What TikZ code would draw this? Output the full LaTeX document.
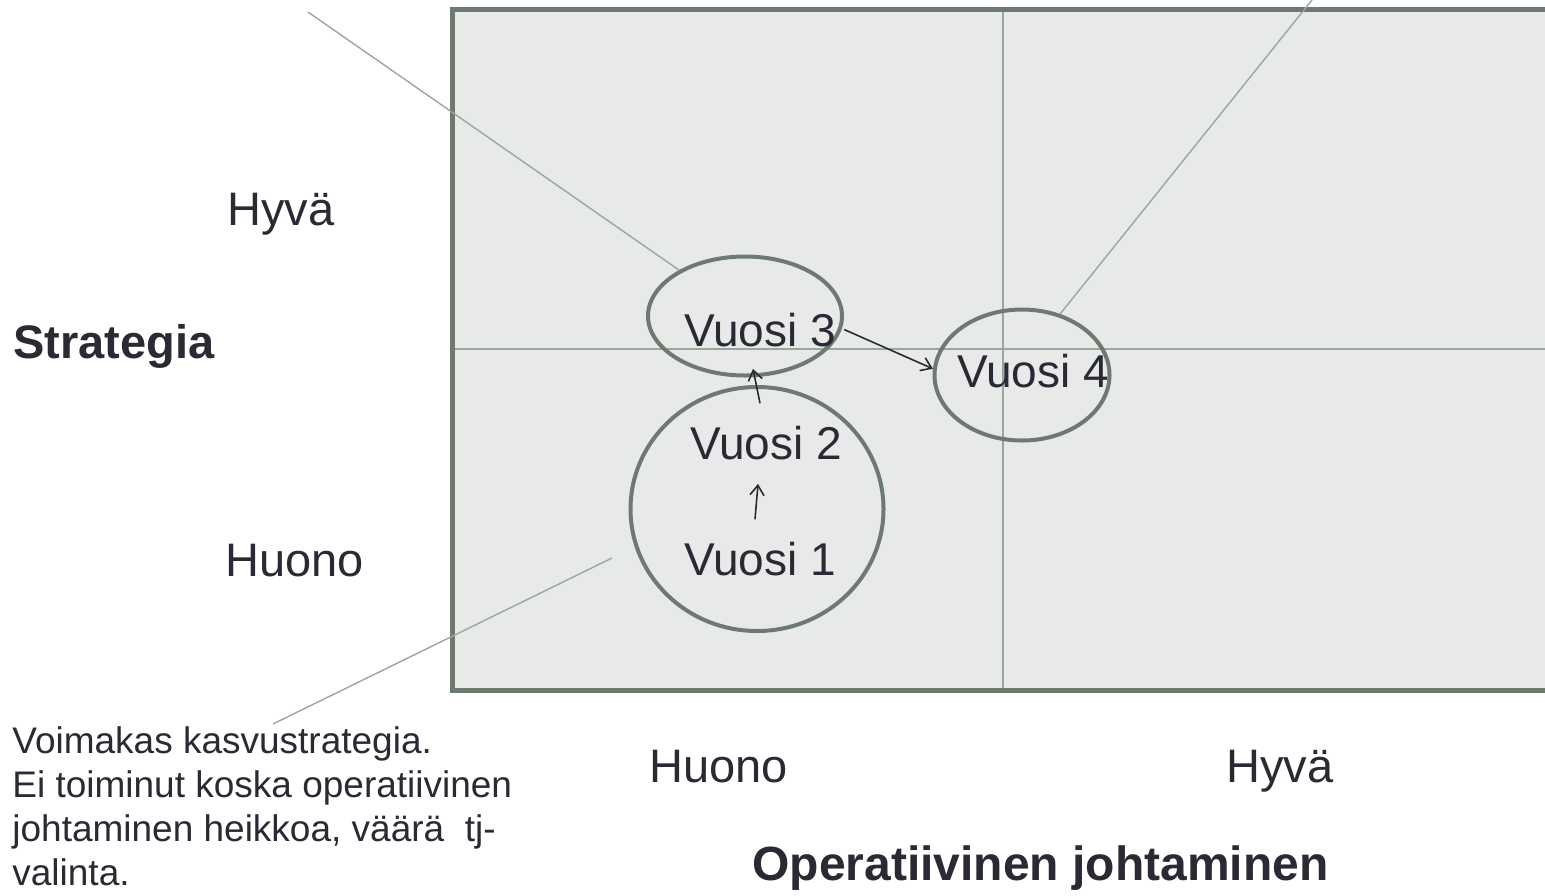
\documentclass[tikz,border=0pt]{standalone}
\usepackage{fontspec}
\setmainfont{Liberation Sans}
\usetikzlibrary{shapes.geometric,arrows.meta,positioning}
\definecolor{boxfill}{HTML}{E8EAE9}
\definecolor{boxline}{HTML}{6E7970}
\definecolor{gridline}{HTML}{98A89C}
\definecolor{txt}{HTML}{2A2A35}
\tikzset{
  big/.style={font=\fontsize{23.5}{28}\selectfont, text=txt, inner sep=0pt},
  bigbold/.style={big, font=\fontsize{24}{28}\selectfont\bfseries},
  year/.style={font=\fontsize{23}{28}\selectfont, text=txt, inner sep=0pt, anchor=base},
  small/.style={font=\fontsize{18.5}{22}\selectfont, text=txt, inner sep=0pt, align=left},
  ring/.style={ellipse, draw=boxline, line width=2pt, inner sep=0pt},
  callout/.style={draw=gridline, line width=0.7pt}
}

\begin{document}
\begin{tikzpicture}[x=0.5pt,y=-0.5pt]
          \useasboundingbox (0,0) rectangle (1545,895);

          % quadrant box
          \fill[boxfill] (452,9.5) rectangle (1560,690);
          \draw[gridline, line width=0.75pt] (1003,9.5) -- (1003,690);
          \draw[gridline, line width=0.75pt] (452,349) -- (1560,349);
          \draw[boxline, line width=2.5pt] (1560,9.5) -- (452.5,9.5) -- (452.5,690) -- (1560,690);

          \begin{scope}
              \node[ring, minimum width=97pt, minimum height=59.5pt] (e3) at (745,316) {};
              \node[ring, minimum width=126.5pt, minimum height=122pt] (e12) at (757,509) {};
              \node[ring, minimum width=87.5pt, minimum height=65.5pt] (e4) at (1022,375) {};

              \node[year] (v1) at (760,575) {Vuosi 1};
              \node[year] (v2) at (766,459) {Vuosi 2};
              \node[year] (v3) at (760,346) {Vuosi 3};
              \node[year] (v4) at (1033,387) {Vuosi 4};

              \node[big, anchor=base west] (goodY) at (227,225) {Hyvä};
              \node[bigbold, anchor=base west, font=\fontsize{23.5}{28}\selectfont\bfseries] (strat) at (13,358) {Strategia};
              \node[big, anchor=base west] (poorY) at (225,576) {Huono};
              \node[big, anchor=base west] (poorX) at (649,782) {Huono};
              \node[big, anchor=base west] (goodX) at (1226,782) {Hyvä};
              \node[bigbold, anchor=base west] (oper) at (752,880) {Operatiivinen johtaminen};

              \node[small, anchor=north west] (note) at (12,726)
                {Voimakas kasvustrategia.\\
                 Ei toiminut koska operatiivinen\\
                 johtaminen heikkoa, väärä\ \ tj-\\
                 valinta.};
          \end{scope}

          \coordinate (c1) at (308,12);
          \coordinate (c2) at (1312,0);
          \coordinate (c3) at (612,558);
          \coordinate (c4) at (273,724);

          \begin{scope}[every edge/.style={callout}]
              \path (c1) edge (e3);
              \path (c2) edge (e4.58);
              \path (c3) edge (c4);
          \end{scope}

          \begin{scope}[>={Straight Barb[length=5pt,width=7pt]},
                        every edge/.style={draw=txt,line width=0.8pt}]
              \path [->] ([shift={(-5,-22)}]v1.north) edge ([shift={(-8,24)}]v2.south);
              \path [->] ([shift={(-6,-22)}]v2.north) edge ([shift={(-7,22)}]v3.south);
              \path [->] ([shift={(8,0)}]v3.east) edge (e4.176);
          \end{scope}
\end{tikzpicture}
\end{document}
